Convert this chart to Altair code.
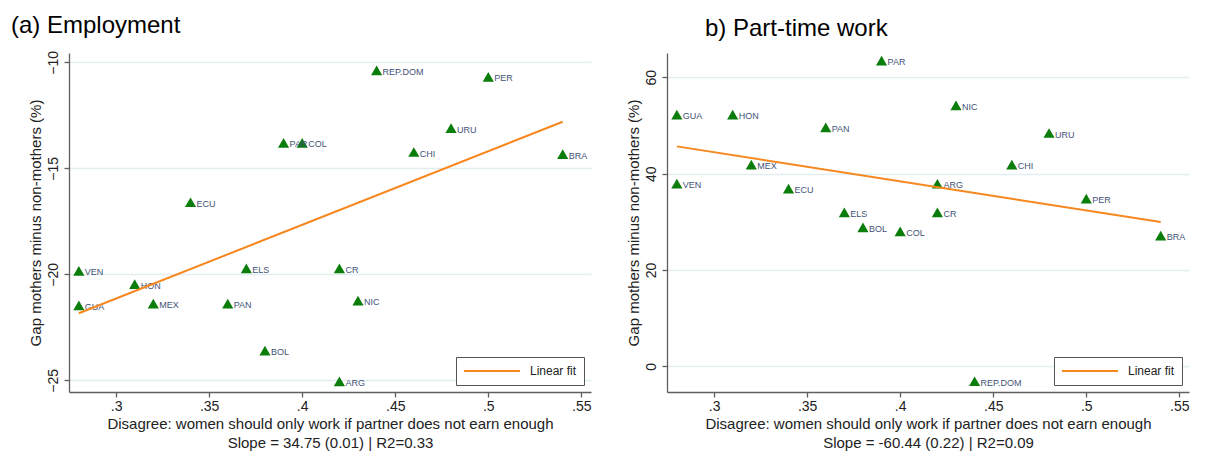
import altair as alt
import pandas as pd

# Country-level points (same attitude share in both panels)
countries = ["VEN", "GUA", "HON", "MEX", "ECU", "PAN", "ELS", "BOL", "PAR",
             "COL", "CR", "ARG", "NIC", "REP.DOM", "CHI", "URU", "PER", "BRA"]
disagree_share = [0.28, 0.28, 0.31, 0.32, 0.34, 0.36, 0.37, 0.38, 0.39,
                  0.40, 0.42, 0.42, 0.43, 0.44, 0.46, 0.48, 0.50, 0.54]
employment_gap = [-19.84, -21.46, -20.46, -21.38, -16.6, -21.38, -19.72, -23.6, -13.8,
                  -13.8, -19.72, -25.05, -21.24, -10.38, -14.23, -13.1, -10.69, -14.33]
parttime_gap = [37.93, 52.25, 52.25, 41.87, 36.89, 49.62, 31.96, 28.85, 63.47,
                28.02, 31.96, 37.9, 54.19, -3.1, 41.87, 48.44, 34.8, 27.12]

x_ticks = [0.3, 0.35, 0.4, 0.45, 0.5, 0.55]
employment_ticks = [-25, -20, -15, -10]
parttime_ticks = [0, 20, 40, 60]

X_TITLE = "Disagree: women should only work if partner does not earn enough"
Y_TITLE = "Gap mothers minus non-mothers (%)"
FONT = "Liberation Sans"
ORANGE = "#f7871f"
GREEN = "#0b7d0b"
LABEL_BLUE = "#3f5378"
AXIS_GREY = "#5f5f5f"


def panel(gap, title, title_dx, y_domain, y_ticks, fit_note):
    df = pd.DataFrame({"country": countries, "x": disagree_share, "y": gap})

    x_enc = alt.X(
        "x:Q",
        scale=alt.Scale(domain=[0.2747, 0.5552], nice=False, zero=False),
        axis=alt.Axis(
            values=x_ticks,
            labelExpr="substring(format(datum.value, '.2~f'), 1)",
            labelFlush=False,
            grid=False,
            title=[X_TITLE, fit_note],
            titleY=36,
            titleBaseline="alphabetic",
            titleLineHeight=19,
        ),
    )
    y_enc = alt.Y(
        "y:Q",
        scale=alt.Scale(domain=y_domain, nice=False, zero=False),
        axis=alt.Axis(
            values=y_ticks,
            format="d",
            grid=True,
            labelAngle=270,
            labelAlign="center",
            labelBaseline="alphabetic",
            labelPadding=7,
            title=Y_TITLE,
            titleX=-28.5,
            titleBaseline="alphabetic",
        ),
    )
    base = alt.Chart(df).encode(x=x_enc, y=y_enc)

    points = base.mark_point(
        shape="triangle-up", filled=True, size=125, color=GREEN, opacity=1
    )
    labels = base.mark_text(
        align="left", baseline="middle", dx=6, dy=1.5,
        fontSize=9, font=FONT, color=LABEL_BLUE,
    ).encode(text="country:N")
    fit = (
        base.transform_regression("x", "y")
        .transform_calculate(series="'Linear fit'")
        .mark_line(strokeWidth=2)
        .encode(
            color=alt.Color(
                "series:N",
                scale=alt.Scale(domain=["Linear fit"], range=[ORANGE]),
                legend=alt.Legend(
                    title=None,
                    orient="bottom-right",
                    offset=7,
                    symbolType="stroke",
                    symbolSize=3136,
                    symbolStrokeWidth=2,
                    clipHeight=14,
                    labelFontSize=12,
                    labelFont=FONT,
                    labelColor="#222222",
                    labelOffset=9,
                    padding=7,
                    strokeColor="#555555",
                    fillColor="white",
                ),
            )
        )
    )

    return alt.layer(points, labels, fit).properties(
        width=522,
        height=339,
        title=alt.TitleParams(
            text=title, anchor="start", frame="group", dx=title_dx,
            fontSize=24, fontWeight="normal", font=FONT, color="black", offset=12.5,
        ),
    )


left = panel(employment_gap, "(a) Employment", -58, [-25.55, -9.56],
             employment_ticks, "Slope = 34.75 (0.01) | R2=0.33")
right = panel(parttime_gap, "b) Part-time work", 38, [-5.33, 65.05],
              parttime_ticks, "Slope = -60.44 (0.22) | R2=0.09")

chart = (
    alt.hconcat(left, right, spacing=34)
    .resolve_scale(color="independent")
    .resolve_legend(color="independent")
    .properties(padding={"left": 3, "top": 5, "right": 3, "bottom": 3},
                background="white")
    .configure_view(strokeWidth=0)
    .configure_axis(
        labelFont=FONT, labelFontSize=14, labelColor="#222222",
        titleFont=FONT, titleFontSize=15, titleColor="#222222", titleFontWeight="normal",
        domainColor=AXIS_GREY, domainWidth=1.3,
        tickColor=AXIS_GREY, tickWidth=1.3, tickSize=5,
        gridColor="#e4eef0", gridWidth=1.5,
    )
)

chart.save("out.html", embed_options={"renderer": "svg", "actions": False})
